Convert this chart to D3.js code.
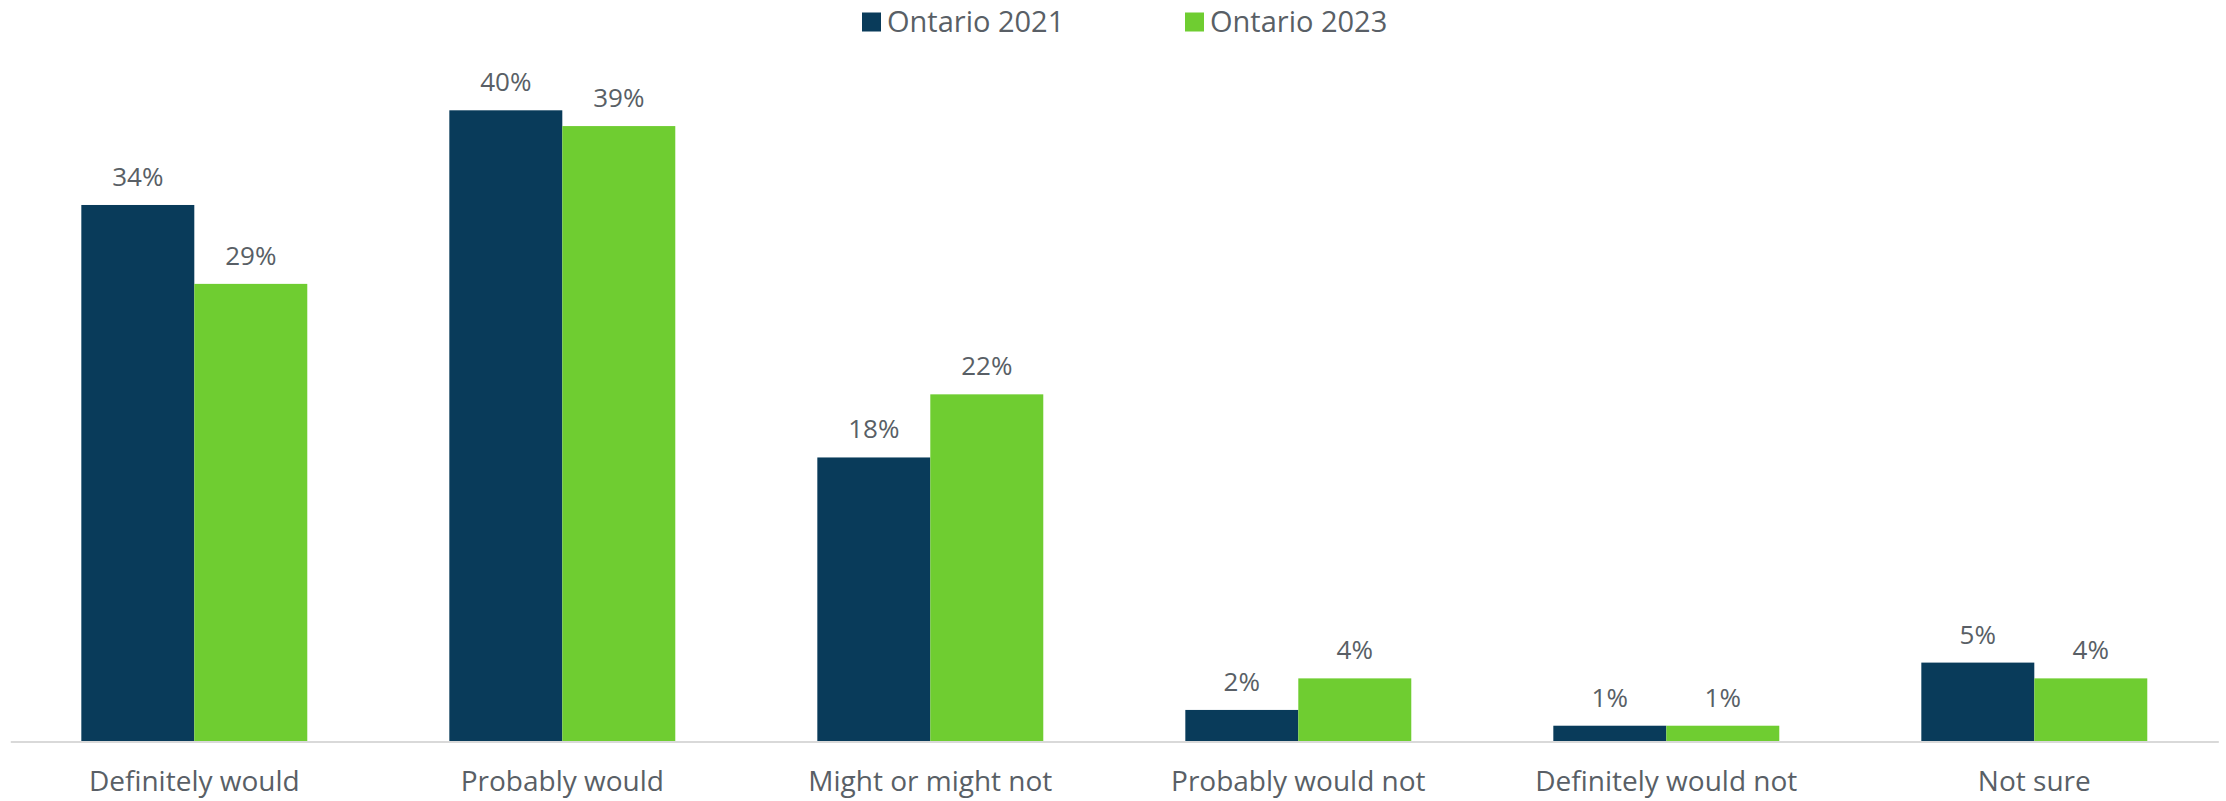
<!DOCTYPE html>
<html>
<head>
<meta charset="utf-8">
<script src="https://cdn.jsdelivr.net/npm/d3@7"></script>
<style>
  html, body { margin: 0; padding: 0; background: #ffffff; }
  svg { display: block; font-family: "Open Sans", "Noto Sans", sans-serif; }
</style>
</head>
<body>
<svg id="chart" width="2226" height="801"></svg>
<script>
// Survey responses by answer, Ontario 2021 vs 2023 (percent)
const categories = ["Definitely would", "Probably would", "Might or might not", "Probably would not", "Definitely would not", "Not sure"];
const seriesNames = ["Ontario 2021", "Ontario 2023"];
const ontario2021 = [34, 40, 18, 2, 1, 5];
const ontario2023 = [29, 39, 22, 4, 1, 4];
const seriesColors = ["#093b5a", "#6fcd31"];

const seriesValues = [ontario2021, ontario2023];
const rows = categories.map((c, i) => ({
  category: c,
  values: seriesNames.map((s, j) => ({ series: s, value: seriesValues[j][i], color: seriesColors[j] }))
}));

const svg = d3.select("#chart");
const plot = { left: 10.3, right: 2218.3, baseline: 741.5 };

const x0 = d3.scaleBand()
  .domain(categories)
  .range([plot.left, plot.right])
  .paddingInner(0.386)
  .paddingOuter(0.193);

const x1 = d3.scaleBand()
  .domain(seriesNames)
  .range([0, x0.bandwidth()]);

const y = d3.scaleLinear()
  .domain([0, 45])
  .range([plot.baseline, plot.baseline - 45 * 15.78]);

const textColor = "#595f66";

// bars
const groups = svg.append("g").selectAll("g")
  .data(rows)
  .join("g")
  .attr("transform", d => `translate(${x0(d.category)},0)`);

groups.selectAll("rect")
  .data(d => d.values)
  .join("rect")
  .attr("x", d => x1(d.series))
  .attr("width", x1.bandwidth())
  .attr("y", d => y(d.value))
  .attr("height", d => y(0) - y(d.value))
  .attr("fill", d => d.color);

// value labels
groups.selectAll("text")
  .data(d => d.values)
  .join("text")
  .attr("x", d => x1(d.series) + x1.bandwidth() / 2)
  .attr("y", d => y(d.value) - 19)
  .attr("text-anchor", "middle")
  .attr("font-size", 26)
  .attr("fill", textColor)
  .text(d => d.value + "%");

// baseline axis
const xAxis = d3.axisBottom(x0).tickSize(0).tickPadding(30);
const axisG = svg.append("g")
  .attr("transform", `translate(0,${plot.baseline})`)
  .call(xAxis);
axisG.select(".domain")
  .attr("stroke", "#d9d9d9")
  .attr("stroke-width", 1.8);
axisG.selectAll(".tick text")
  .attr("font-family", "\"Open Sans\", \"Noto Sans\", sans-serif")
  .attr("font-size", 28)
  .attr("fill", textColor);

// legend
const legend = svg.append("g").attr("transform", "translate(862,0)");
const legendStep = 323;
const items = legend.selectAll("g")
  .data(seriesNames)
  .join("g")
  .attr("transform", (d, i) => `translate(${i * legendStep},0)`);
items.append("rect")
  .attr("x", 0)
  .attr("y", 12.5)
  .attr("width", 19)
  .attr("height", 19)
  .attr("fill", (d, i) => seriesColors[i]);
items.append("text")
  .attr("x", 25)
  .attr("y", 32)
  .attr("font-size", 29)
  .attr("fill", textColor)
  .text(d => d);
</script>
</body>
</html>
